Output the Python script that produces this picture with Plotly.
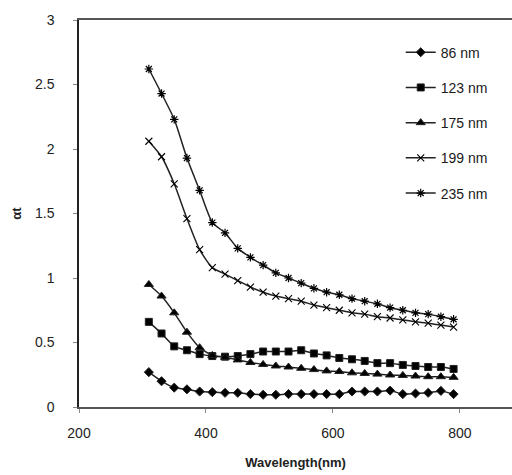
import plotly.graph_objects as go

wavelength = [310 + 20 * k for k in range(25)]

s86 = [0.27, 0.20, 0.15, 0.137, 0.12, 0.115, 0.11, 0.11, 0.10, 0.095, 0.095, 0.10, 0.10,
       0.10, 0.10, 0.10, 0.12, 0.12, 0.12, 0.127, 0.10, 0.105, 0.11, 0.125, 0.10]
s123 = [0.66, 0.57, 0.47, 0.44, 0.41, 0.395, 0.39, 0.395, 0.41, 0.43, 0.43, 0.43, 0.44,
        0.415, 0.40, 0.38, 0.37, 0.357, 0.34, 0.34, 0.326, 0.318, 0.31, 0.31, 0.295]
s175 = [0.95, 0.86, 0.73, 0.58, 0.46, 0.40, 0.385, 0.365, 0.345, 0.33, 0.318, 0.31, 0.30,
        0.29, 0.28, 0.275, 0.265, 0.26, 0.255, 0.248, 0.245, 0.24, 0.235, 0.235, 0.23]
s199 = [2.06, 1.94, 1.73, 1.46, 1.22, 1.08, 1.03, 0.98, 0.93, 0.89, 0.86, 0.84, 0.82,
        0.79, 0.77, 0.75, 0.73, 0.72, 0.70, 0.69, 0.675, 0.66, 0.65, 0.635, 0.62]
s235 = [2.62, 2.43, 2.23, 1.93, 1.68, 1.43, 1.35, 1.23, 1.16, 1.10, 1.04, 1.00, 0.96,
        0.92, 0.89, 0.87, 0.84, 0.82, 0.80, 0.77, 0.75, 0.73, 0.72, 0.70, 0.68]

series_names = ["86 nm", "123 nm", "175 nm", "199 nm", "235 nm"]
series_values = [s86, s123, s175, s199, s235]
x_ticks = [200, 400, 600, 800]
y_ticks = [0, 0.5, 1, 1.5, 2, 2.5, 3]
y_ticklabels = ["0", "0.5", "1", "1.5", "2", "2.5", "3"]

symbols = ["diamond", "square", "triangle-up", "x-thin-open", "asterisk-open"]
sizes = [7, 7, 8, 7, 7]
mline = [1.0, 1.0, 1.0, 1.1, 1.2]

fig = go.Figure()
for i, (name, vals) in enumerate(zip(series_names, series_values)):
    fig.add_trace(go.Scatter(
        x=wavelength, y=vals, name=name, mode="lines+markers",
        line=dict(color="#222222", width=1.5, shape="spline", smoothing=0.6),
        marker=dict(symbol=symbols[i], size=sizes[i], color="#000000",
                    line=dict(color="#222222", width=mline[i])),
        legendgroup=f"g{i}",
    ))

fig.update_layout(
    width=512, height=475,
    margin=dict(l=79, r=0, t=20, b=68),
    paper_bgcolor="white", plot_bgcolor="white",
    font=dict(family="Liberation Sans, Arial, sans-serif", size=14, color="#222222"),
    showlegend=True,
    legend=dict(x=0.743, y=0.957, xanchor="left", yanchor="top",
                font=dict(size=14, color="#1a1a1a"),
                tracegroupgap=14, traceorder="grouped",
                bgcolor="rgba(0,0,0,0)", itemwidth=30),
    xaxis=dict(range=[200, 882], tickvals=x_ticks, showgrid=False, zeroline=False,
               showline=True, linecolor="#555555", linewidth=2, mirror=True,
               ticks="outside", ticklen=4, tickcolor="#888888", tickwidth=1,
               ticklabelstandoff=8,
               title=dict(text="<b>Wavelength(nm)</b>", font=dict(size=13, color="#222222"),
                          standoff=18)),
    yaxis=dict(range=[0, 3], tickvals=y_ticks, ticktext=y_ticklabels, showgrid=False,
               zeroline=False, showline=True, linecolor="#222222", linewidth=1.5,
               ticks="outside", ticklen=4, tickcolor="#888888", tickwidth=1,
               ticklabelstandoff=16,
               title=dict(text="<b>αt</b>", font=dict(size=13, color="#222222"),
                          standoff=10)),
)

fig.write_html("out.html")
